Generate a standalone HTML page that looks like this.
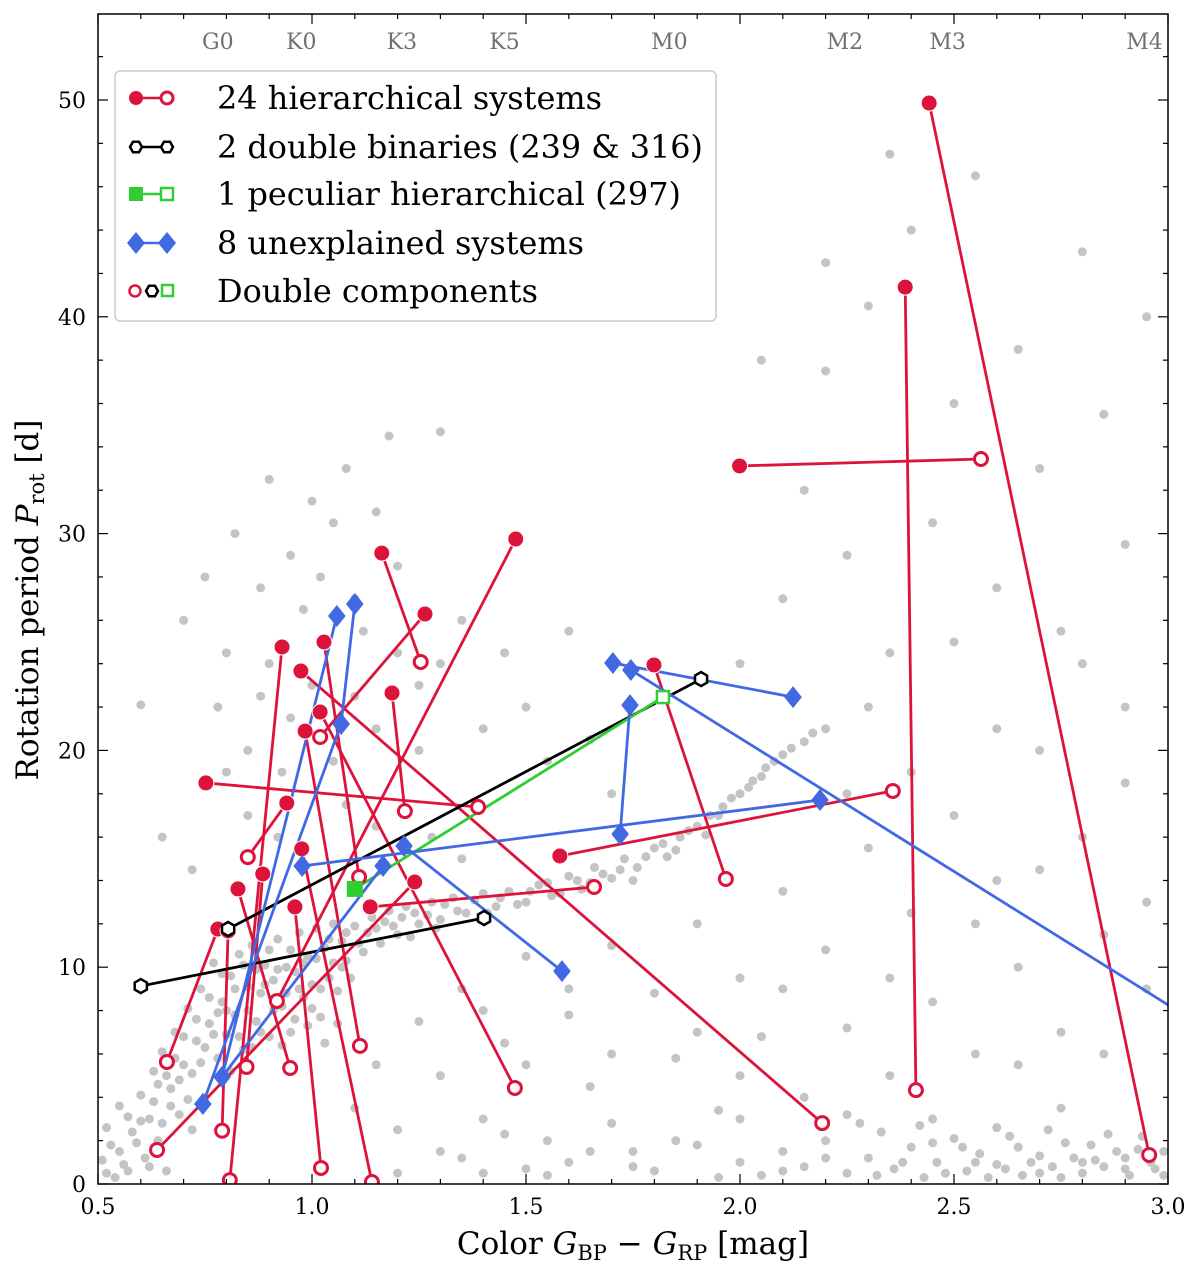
<!DOCTYPE html>
<html><head><meta charset="utf-8"><style>
html,body{margin:0;padding:0;background:#fff;}
svg text{font-family:"DejaVu Serif","Liberation Serif",serif;}
</style></head><body>
<svg id="chart" width="1200" height="1274" xmlns="http://www.w3.org/2000/svg">
<defs><clipPath id="plotclip"><rect x="98" y="14" width="1070" height="1170"/></clipPath></defs>
<g id="bg" clip-path="url(#plotclip)"></g>
<g id="lines" clip-path="url(#plotclip)"></g>
<g id="marks" clip-path="url(#plotclip)"></g>
<g id="axes"></g>
</svg>
<script>
const xTicks=[0.5,1.0,1.5,2.0,2.5,3.0];
const xTickLabels=["0.5","1.0","1.5","2.0","2.5","3.0"];
const yTicks=[0,10,20,30,40,50];
const yTickLabels=["0","10","20","30","40","50"];
const spectralTypes=["G0","K0","K3","K5","M0","M2","M3","M4"];
const spectralColors=[0.78,0.975,1.21,1.45,1.835,2.245,2.485,2.945];
const redPrim=[[2.442,49.86],[2.386,41.37],[1.999,33.12],[1.476,29.75],[1.163,29.1],[1.264,26.29],[0.930,24.77],[1.028,25.0],[0.974,23.66],[1.187,22.65],[1.019,21.77],[0.984,20.89],[0.752,18.5],[1.799,23.94],[0.941,17.57],[0.976,15.46],[0.885,14.3],[0.827,13.61],[0.960,12.78],[0.780,11.76],[1.240,13.93],[1.136,12.78],[1.579,15.13],[0.804,11.67]];
const redSec=[[2.956,1.34],[2.411,4.33],[2.563,33.44],[0.918,8.44],[1.254,24.08],[1.019,20.62],[0.808,0.18],[1.110,14.16],[2.192,2.81],[1.217,17.2],[1.474,4.43],[1.112,6.37],[1.388,17.39],[1.967,14.07],[0.850,15.08],[1.140,0.09],[0.847,5.4],[0.949,5.35],[1.021,0.74],[0.661,5.63],[0.638,1.57],[1.659,13.7],[2.357,18.13],[0.790,2.46]];
const blackA=[[0.600,9.13],[0.804,11.76]];
const blackB=[[1.402,12.27],[1.909,23.29]];
const greenA=[[1.100,13.61]];
const greenB=[[1.820,22.46]];
const blueA=[[1.703,24.03],[1.743,22.09],[1.745,23.71],[1.068,21.22],[1.100,26.75],[1.058,26.2],[0.977,14.67],[1.215,15.59],[1.166,14.67]];
const blueB=[[2.124,22.46],[1.720,16.14],[3.3,4.57],[0.745,3.69],[1.068,21.22],[0.790,4.94],[2.187,17.71],[1.584,9.82],[0.790,4.94]];
const bgStars=[
[0.52,0.5],[0.53,1.8],[0.55,3.6],[0.56,0.9],[0.58,2.4],[0.6,4.1],[0.61,1.2],[0.62,3.0],[0.63,5.2],[0.64,2.0],[0.65,6.1],[0.66,0.6],[0.67,4.4],[0.68,7.0],[0.69,3.2],[0.7,5.5],[0.71,8.1],[0.72,2.5],[0.73,6.6],[0.74,9.0],[0.75,4.0],[0.76,7.4],[0.77,10.2],[0.78,5.8],[0.79,8.4],[0.8,6.9],[0.81,9.6],[0.82,7.8],[0.83,10.6],[0.84,6.2],[0.85,9.1],[0.86,11.0],[0.87,7.5],[0.88,8.8],[0.89,10.1],[0.9,6.8],[0.91,9.4],[0.92,11.3],[0.93,8.2],[0.94,10.0],[0.95,7.0],[0.96,9.8],[0.97,11.6],[0.98,8.6],[0.99,10.5],[1.0,9.2],[1.01,11.8],[1.02,7.7],[1.03,10.9],[1.04,9.5],[1.05,12.0],[1.06,8.9],[1.07,11.2],[1.08,10.3],[1.1,11.9],[1.12,10.7],[1.14,12.3],[1.16,11.1],[1.18,12.6],[1.2,11.5],[1.22,12.8],[1.25,12.0],[1.28,13.0],[1.3,12.2],[1.33,13.2],[1.36,12.5],[1.4,13.4],[1.43,12.8],[1.46,13.5],[1.5,13.0],[1.53,13.8],[1.56,13.3],[1.6,14.2],[1.63,13.6],[1.66,14.6],[1.7,14.1],[1.73,15.0],[1.76,14.6],[1.8,15.5],[1.83,15.1],[1.86,16.0],[1.9,16.5],[1.93,17.0],[1.96,17.4],[2.0,18.0],[2.03,18.6],[2.06,19.2],[2.1,19.8],[2.15,20.4],[2.2,21.0],
[0.6,22.1],[0.65,16.0],[0.7,26.0],[0.72,14.5],[0.75,28.0],[0.8,24.5],[0.82,30.0],[0.85,20.0],[0.88,27.5],[0.9,32.5],[0.93,19.0],[0.95,29.0],[0.98,26.5],[1.0,31.5],[1.02,28.0],[1.05,30.5],[1.08,33.0],[1.1,27.0],[1.15,31.0],[1.18,34.5],[1.2,28.5],[1.25,23.0],[1.3,34.7],[1.35,26.0],[1.4,21.0],[1.45,24.5],[1.5,22.0],[1.55,19.5],[1.6,25.5],[1.65,20.5],[1.7,18.0],
[1.25,7.5],[1.3,5.0],[1.35,9.0],[1.4,3.0],[1.45,6.5],[1.5,10.5],[1.55,2.0],[1.6,7.8],[1.65,4.5],[1.7,11.0],[1.75,1.5],[1.8,8.8],[1.85,5.8],[1.9,12.0],[1.95,3.4],[2.0,9.5],[2.05,6.8],[2.1,13.5],[2.15,4.0],[2.2,10.8],[2.25,7.2],[2.3,15.5],[2.35,5.0],[2.4,12.5],[2.45,8.4],[2.5,17.0],[2.55,6.0],[2.6,14.0],[2.65,10.0],[2.7,20.0],[2.75,7.0],[2.8,16.0],[2.85,11.5],[2.9,22.0],[2.95,9.0],
[2.1,27.0],[2.15,32.0],[2.2,37.5],[2.25,29.0],[2.3,40.5],[2.35,24.5],[2.4,44.0],[2.45,30.5],[2.5,36.0],[2.55,46.5],[2.6,27.5],[2.65,38.5],[2.7,33.0],[2.75,25.5],[2.8,43.0],[2.85,35.5],[2.9,29.5],[2.95,40.0],[2.05,38.0],[2.0,24.0],[2.2,42.5],[2.35,47.5],
[2.0,1.0],[2.05,0.4],[2.1,1.5],[2.15,0.8],[2.2,2.0],[2.25,0.5],[2.3,1.2],[2.33,2.4],[2.36,0.7],[2.4,1.7],[2.43,0.3],[2.46,1.0],[2.5,2.1],[2.53,0.6],[2.56,1.4],[2.6,0.9],[2.63,2.2],[2.66,0.4],[2.7,1.3],[2.73,0.8],[2.76,1.9],[2.8,0.5],[2.83,1.1],[2.86,2.3],[2.9,0.7],[2.93,1.6],[2.96,1.0],[2.99,0.4],[1.2,0.5],[1.35,1.2],[1.5,0.7],[1.65,1.5],[1.8,0.6],[1.9,1.8]
];
const bgStars2=[
[0.51,1.1],[0.52,2.6],[0.54,0.3],[0.55,1.5],[0.57,3.1],[0.57,0.6],[0.59,1.9],[0.6,2.9],[0.62,0.8],[0.63,3.8],[0.64,4.6],[0.65,2.8],[0.66,5.0],[0.67,3.6],[0.68,5.8],[0.69,4.8],[0.7,6.8],[0.71,3.9],[0.72,5.1],[0.73,7.6],[0.74,5.6],[0.75,6.3],[0.76,8.6],[0.77,6.9],[0.78,7.9],[0.79,9.7],[0.8,8.0],[0.81,5.2],[0.82,9.0],[0.83,6.8],[0.84,10.1],[0.85,8.0],[0.86,6.3],[0.87,9.9],[0.88,7.0],[0.89,9.2],[0.9,10.8],[0.91,8.0],[0.92,9.9],[0.93,6.4],[0.94,8.8],[0.95,10.8],[0.96,7.6],[0.97,9.0],[0.98,10.2],[0.99,7.3],[1.0,8.1],[1.01,10.4],[1.02,9.0],[1.03,6.5],[1.04,11.3],[1.05,10.2],[1.06,7.4],[1.07,10.0],[1.08,11.6],[1.09,9.5],[1.11,11.1],[1.13,11.6],[1.15,11.8],[1.17,12.1],[1.19,11.9],[1.21,12.3],[1.23,11.4],[1.24,12.5],[1.27,12.4],[1.29,11.8],[1.31,12.9],[1.34,12.6],[1.38,13.1],[1.41,12.5],[1.44,13.2],[1.48,12.9],[1.51,13.5],[1.55,13.9],[1.58,13.4],[1.62,14.0],[1.65,13.9],[1.68,14.3],[1.72,14.5],[1.75,14.0],[1.78,15.1],[1.82,15.7],[1.85,15.4],[1.88,16.3],[1.92,16.1],[1.95,17.0],[1.98,17.8],[2.02,18.3],[2.05,18.8],[2.08,19.5],[2.12,20.1],[2.17,20.8],
[0.88,22.5],[0.9,24.0],[0.95,21.5],[1.0,23.0],[1.05,19.5],[1.1,22.5],[1.12,25.5],[1.15,21.0],[1.2,24.5],[1.25,20.0],[1.3,24.0],[0.8,19.0],[0.85,17.0],[0.78,22.0],[0.92,16.0],[1.08,17.5],[1.15,16.5],[1.28,16.0],[1.35,15.0],
[1.1,3.5],[1.15,5.5],[1.2,2.5],[1.3,1.5],[1.4,0.5],[1.45,2.3],[1.55,0.4],[1.6,1.0],[1.7,2.8],[1.75,0.8],[1.85,2.0],[1.95,0.3],[2.0,3.0],[2.1,0.6],[2.2,1.2],[2.28,2.8],[2.32,0.4],[2.38,1.0],[2.42,2.7],[2.48,0.5],[2.52,1.7],[2.58,0.3],[2.6,2.6],[2.65,1.7],[2.68,1.0],[2.72,2.5],[2.75,0.3],[2.78,1.2],[2.82,1.8],[2.85,0.8],[2.88,1.5],[2.91,0.4],[2.94,2.2],[2.97,0.7],[2.99,1.5],[2.62,0.7],[2.7,0.5],[2.8,1.0],[2.9,1.2],[2.45,1.9],[2.55,1.0],
[2.25,18.0],[2.3,22.0],[2.4,19.0],[2.5,25.0],[2.6,21.0],[2.7,14.5],[2.8,24.0],[2.9,18.5],[2.95,13.0],[2.35,9.5],[2.55,12.0],[2.65,5.5],[2.75,3.5],[2.85,6.0],[2.45,3.0],[2.25,3.2],[1.9,7.0],[2.0,5.0],[2.1,9.0],[1.7,6.0],[1.6,9.0],[1.5,5.5],[1.4,8.0]
];
const X0=98,X1=1168,Y0=1184,Y1=100;
function sx(v){return X0+(v-0.5)*(X1-X0)/2.5;}
function sy(v){return Y0-v*(Y0-Y1)/50;}
const NS="http://www.w3.org/2000/svg";
function mk(tag,attrs,parent){const e=document.createElementNS(NS,tag);for(const k in attrs)e.setAttribute(k,attrs[k]);parent.appendChild(e);return e;}
const bg=document.getElementById('bg'),lines=document.getElementById('lines'),marks=document.getElementById('marks'),axes=document.getElementById('axes');
bgStars.concat(bgStars2).forEach(p=>{const c=mk('circle',{cx:sx(p[0]),cy:sy(p[1]),r:4.5,fill:'#c4c4c4'},bg);

});
function line(a,b,col,w){const l=mk('line',{x1:sx(a[0]),y1:sy(a[1]),x2:sx(b[0]),y2:sy(b[1]),stroke:col,'stroke-width':w},lines);

}
function hexPts(cx,cy,r){let s=[];for(let i=0;i<6;i++){const a=Math.PI/3*i+Math.PI/6;s.push((cx+r*Math.cos(a)).toFixed(1)+','+(cy+r*Math.sin(a)).toFixed(1));}return s.join(' ');}
function diamond(cx,cy,r){return `${cx},${cy-r} ${cx+r*0.8},${cy} ${cx},${cy+r} ${cx-r*0.8},${cy}`;}
const RED='#dc143c',BLUE='#4169e1',GREEN='#32cd32';
redPrim.forEach((p,i)=>line(p,redSec[i],RED,2.8));
blackA.forEach((p,i)=>line(p,blackB[i],'#000',2.8));
greenA.forEach((p,i)=>line(p,greenB[i],GREEN,2.8));
blueA.forEach((p,i)=>line(p,blueB[i],BLUE,2.8));
redPrim.forEach(p=>{const c=mk('circle',{cx:sx(p[0]),cy:sy(p[1]),r:8,fill:RED,stroke:'#fff','stroke-width':1},marks);

});
redSec.forEach(p=>{const c=mk('circle',{cx:sx(p[0]),cy:sy(p[1]),r:6.5,fill:'#fff',stroke:RED,'stroke-width':3},marks);

});
blackA.concat(blackB).forEach(p=>{const h=mk('polygon',{points:hexPts(sx(p[0]),sy(p[1]),7),fill:'#fff',stroke:'#000','stroke-width':2.5},marks);

});
greenA.forEach(p=>{const r=mk('rect',{x:sx(p[0])-8,y:sy(p[1])-8,width:16,height:16,fill:GREEN},marks);

});
greenB.forEach(p=>{const r=mk('rect',{x:sx(p[0])-6,y:sy(p[1])-6,width:12,height:12,fill:'#fff',stroke:GREEN,'stroke-width':2.5},marks);

});
blueA.concat(blueB).forEach(p=>{if(p[0]>3.05)return;const d=mk('polygon',{points:diamond(sx(p[0]),sy(p[1]),11),fill:BLUE},marks);

});
const fr=mk('rect',{x:X0,y:14,width:X1-X0,height:Y0-14,fill:'none',stroke:'#000','stroke-width':1.5},axes);


for(let v=0.5;v<=3.0001;v+=0.1){const x=sx(v);const maj=Math.abs(v*2-Math.round(v*2))<1e-6;const L=maj?10:5;
mk('line',{x1:x,y1:Y0,x2:x,y2:Y0-L,stroke:'#000','stroke-width':1.2},axes);
mk('line',{x1:x,y1:14,x2:x,y2:14+L,stroke:'#000','stroke-width':1.2},axes);}
for(let v=0;v<=54;v+=2){const y=sy(v);if(y<14)break;const maj=v%10===0;const L=maj?10:5;
mk('line',{x1:X0,y1:y,x2:X0+L,y2:y,stroke:'#000','stroke-width':1.2},axes);
mk('line',{x1:X1,y1:y,x2:X1-L,y2:y,stroke:'#000','stroke-width':1.2},axes);}
xTicks.forEach((v,i)=>{const t=mk('text',{x:sx(v),y:Y0+30,'text-anchor':'middle','font-size':22},axes);t.textContent=xTickLabels[i];

});
yTicks.forEach((v,i)=>{const t=mk('text',{x:X0-12,y:sy(v)+8,'text-anchor':'end','font-size':22},axes);t.textContent=yTickLabels[i];

});
spectralTypes.forEach((s,i)=>{const t=mk('text',{x:sx(spectralColors[i]),y:49,'text-anchor':'middle','font-size':22,fill:'#707070'},axes);t.textContent=s;

});
</script>
<svg style="position:absolute;left:0;top:0" width="1200" height="1274" xmlns="http://www.w3.org/2000/svg">
<text x="633" y="1254" text-anchor="middle" font-size="31" font-family="DejaVu Serif, serif">Color <tspan font-style="italic">G</tspan><tspan font-size="21" dy="6">BP</tspan><tspan dy="-6"> − </tspan><tspan font-style="italic">G</tspan><tspan font-size="21" dy="6">RP</tspan><tspan dy="-6"> [mag]</tspan></text>
<text transform="translate(38,600) rotate(-90)" text-anchor="middle" font-size="31" font-family="DejaVu Serif, serif">Rotation period <tspan font-style="italic">P</tspan><tspan font-size="21" dy="6">rot</tspan><tspan dy="-6"> [d]</tspan></text>
<g font-family="DejaVu Serif, serif" font-size="31.6">
<rect x="115" y="71" width="601" height="250" rx="5" fill="#fff" fill-opacity="0.85" stroke="#ccc" stroke-width="1.5"/>
<g>
<line x1="136" y1="98" x2="167" y2="98" stroke="#dc143c" stroke-width="2.5"/><circle cx="136" cy="98" r="7" fill="#dc143c"/><circle cx="167" cy="98" r="6" fill="#fff" stroke="#dc143c" stroke-width="3"/>
<text x="217" y="109" textLength="385" lengthAdjust="spacingAndGlyphs">24 hierarchical systems</text></g>
<g>
<line x1="136" y1="147" x2="167" y2="147" stroke="#000" stroke-width="2.5"/><polygon points="142,147 139,152.2 133,152.2 130,147 133,141.8 139,141.8" fill="#fff" stroke="#000" stroke-width="2.5"/><polygon points="173,147 170,152.2 164,152.2 161,147 164,141.8 170,141.8" fill="#fff" stroke="#000" stroke-width="2.5"/>
<text x="217" y="158" textLength="486" lengthAdjust="spacingAndGlyphs">2 double binaries (239 &amp; 316)</text></g>
<g>
<line x1="136" y1="194" x2="167" y2="194" stroke="#32cd32" stroke-width="2.5"/><rect x="129" y="187" width="14" height="14" fill="#32cd32"/><rect x="161" y="188" width="12" height="12" fill="#fff" stroke="#32cd32" stroke-width="2.5"/>
<text x="217" y="205" textLength="464" lengthAdjust="spacingAndGlyphs">1 peculiar hierarchical (297)</text></g>
<g>
<line x1="136" y1="243" x2="167" y2="243" stroke="#4169e1" stroke-width="2.5"/><polygon points="136,232 145,243 136,254 127,243" fill="#4169e1"/><polygon points="167,232 176,243 167,254 158,243" fill="#4169e1"/>
<text x="217" y="254" textLength="367" lengthAdjust="spacingAndGlyphs">8 unexplained systems</text></g>
<g>
<circle cx="135" cy="291" r="5.5" fill="#fff" stroke="#dc143c" stroke-width="2.5"/><polygon points="158,291 155,296.2 149,296.2 146,291 149,285.8 155,285.8" fill="#fff" stroke="#000" stroke-width="2.5"/><rect x="162" y="285" width="11" height="11" fill="#fff" stroke="#32cd32" stroke-width="2.5"/>
<text x="217" y="302" textLength="321" lengthAdjust="spacingAndGlyphs">Double components</text></g>
</g>
</svg>
</body></html>
